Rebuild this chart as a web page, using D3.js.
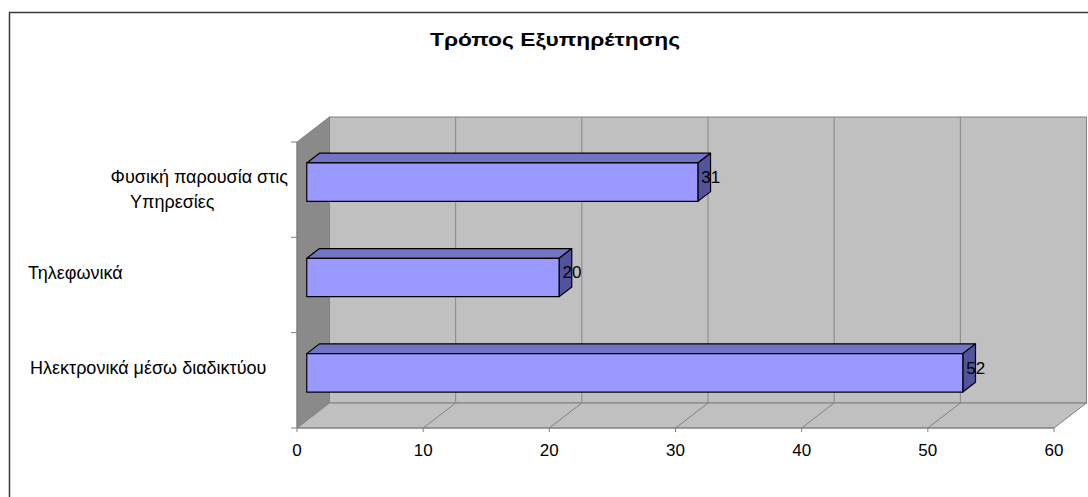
<!DOCTYPE html>
<html>
<head>
<meta charset="utf-8">
<script src="https://cdn.jsdelivr.net/npm/d3@7"></script>
<style>
  html, body { margin: 0; padding: 0; background: #fff; }
  svg { display: block; }
  text { font-family: "Liberation Sans", Arial, sans-serif; fill: #000; }
</style>
</head>
<body>
<svg id="chart" width="1088" height="497"></svg>
<script>
// Chart data
const title = "Τρόπος Εξυπηρέτησης";
const categories = [
  "Φυσική παρουσία στις Υπηρεσίες",
  "Τηλεφωνικά",
  "Ηλεκτρονικά μέσω διαδικτύου"
];
const categoryLines = [
  ["Φυσική παρουσία στις", "Υπηρεσίες"],
  ["Τηλεφωνικά"],
  ["Ηλεκτρονικά μέσω διαδικτύου"]
];
const values = [31, 20, 52];
const xTicks = [0, 10, 20, 30, 40, 50, 60];

// Layout
const plot = { left: 297, right: 1054, top: 142, bottom: 428 };
const depth = { dx: 32.5, dy: -25 };      // 3D depth offset of the back wall
const barDepth = [0.3, 0.69];              // bar occupies this slice of the depth
const barThickness = 0.403;                // share of band height
// anchors for the category text (x, text-anchor) per row and line
const catLabelAnchor = [
  [{ x: 288, a: "end" }, { x: 130, a: "start" }],
  [{ x: 28, a: "start" }],
  [{ x: 30, a: "start" }]
];
const labelFont = 18;

const svg = d3.select("#chart");

const x = d3.scaleLinear().domain([0, 60]).range([plot.left, plot.right]);
const y = d3.scaleBand().domain(categories).range([plot.top, plot.bottom]).padding(0);

const P = (px, py, f) => [px + depth.dx * f, py + depth.dy * f];
const poly = pts => pts.map(p => p.join(",")).join(" ");

// Outer frame
svg.append("rect")
  .attr("x", 9.5).attr("y", 12.5)
  .attr("width", 1100).attr("height", 500)
  .attr("fill", "#fff").attr("stroke", "#3a3a3a").attr("stroke-width", 1.5);

// Title
svg.append("text")
  .attr("x", 430).attr("y", 46)
  .attr("font-size", 18).attr("font-weight", "bold")
  .attr("textLength", 250).attr("lengthAdjust", "spacingAndGlyphs")
  .text(title);

const g = svg.append("g");

// Back wall
const bx0 = x(0) + depth.dx, bx1 = x(60) + depth.dx;
const by0 = plot.top + depth.dy, by1 = plot.bottom + depth.dy;
g.append("rect")
  .attr("x", bx0).attr("y", by0)
  .attr("width", bx1 - bx0).attr("height", by1 - by0)
  .attr("fill", "#c0c0c0").attr("stroke", "#808080").attr("stroke-width", 1);

// Vertical gridlines on the back wall
g.selectAll("line.grid")
  .data(xTicks.slice(1, -1))
  .join("line")
  .attr("class", "grid")
  .attr("x1", d => x(d) + depth.dx).attr("x2", d => x(d) + depth.dx)
  .attr("y1", by0).attr("y2", by1)
  .attr("stroke", "#868686").attr("stroke-width", 1);

// Left side wall
g.append("polygon")
  .attr("points", poly([
    [x(0), plot.top], P(x(0), plot.top, 1), P(x(0), plot.bottom, 1), [x(0), plot.bottom]
  ]))
  .attr("fill", "#8a8a8a").attr("stroke", "#808080").attr("stroke-width", 1);

// Floor
g.append("polygon")
  .attr("points", poly([
    [x(0), plot.bottom], [x(60), plot.bottom], P(x(60), plot.bottom, 1), P(x(0), plot.bottom, 1)
  ]))
  .attr("fill", "#c0c0c0").attr("stroke", "#808080").attr("stroke-width", 1);

// Floor gridlines
g.selectAll("line.floor")
  .data(xTicks.slice(1, -1))
  .join("line")
  .attr("class", "floor")
  .attr("x1", d => x(d)).attr("y1", plot.bottom)
  .attr("x2", d => x(d) + depth.dx).attr("y2", plot.bottom + depth.dy)
  .attr("stroke", "#808080").attr("stroke-width", 1);

// X axis line and ticks
g.append("line")
  .attr("x1", x(0)).attr("x2", x(60))
  .attr("y1", plot.bottom).attr("y2", plot.bottom)
  .attr("stroke", "#808080").attr("stroke-width", 1.2);
g.selectAll("line.xtick")
  .data(xTicks)
  .join("line")
  .attr("class", "xtick")
  .attr("x1", d => x(d)).attr("x2", d => x(d))
  .attr("y1", plot.bottom).attr("y2", plot.bottom + 4)
  .attr("stroke", "#808080");
g.selectAll("text.xlabel")
  .data(xTicks)
  .join("text")
  .attr("class", "xlabel")
  .attr("x", d => x(d)).attr("y", plot.bottom + 28)
  .attr("text-anchor", "middle")
  .attr("font-size", 17)
  .text(d => d);

// Y axis line and ticks at band boundaries
g.append("line")
  .attr("x1", x(0)).attr("x2", x(0))
  .attr("y1", plot.top).attr("y2", plot.bottom)
  .attr("stroke", "#808080");
const boundaries = categories.map(c => y(c)).concat([plot.bottom]);
g.selectAll("line.ytick")
  .data(boundaries)
  .join("line")
  .attr("class", "ytick")
  .attr("x1", x(0) - 6).attr("x2", x(0))
  .attr("y1", d => d).attr("y2", d => d)
  .attr("stroke", "#808080");

// Bars (top face, end face, front face)
const bars = g.selectAll("g.bar")
  .data(categories.map((c, i) => ({ c, v: values[i] })))
  .join("g").attr("class", "bar");

bars.each(function (d) {
  const sel = d3.select(this);
  const bh = y.bandwidth() * barThickness;
  const yc = y(d.c) + y.bandwidth() / 2;
  const yt = yc - bh / 2, yb = yc + bh / 2;
  const x0 = x(0), x1 = x(d.v);
  const [f, b] = barDepth;
  const ftl = P(x0, yt, f), ftr = P(x1, yt, f), fbr = P(x1, yb, f), fbl = P(x0, yb, f);
  const btl = P(x0, yt, b), btr = P(x1, yt, b), bbr = P(x1, yb, b);
  sel.append("polygon").attr("points", poly([ftl, ftr, btr, btl]))
    .attr("fill", "#7474c4").attr("stroke", "#000").attr("stroke-width", 1.2).attr("stroke-linejoin", "round");
  sel.append("polygon").attr("points", poly([ftr, btr, bbr, fbr]))
    .attr("fill", "#53539a").attr("stroke", "#000").attr("stroke-width", 1.2).attr("stroke-linejoin", "round");
  sel.append("polygon").attr("points", poly([ftl, ftr, fbr, fbl]))
    .attr("fill", "#9999ff").attr("stroke", "#000").attr("stroke-width", 1.2).attr("stroke-linejoin", "round");
  // value label
  const lp = P(x1, yc, 0.5);
  sel.append("text")
    .attr("x", lp[0] - 3).attr("y", lp[1])
    .attr("dy", "0.35em")
    .attr("font-size", 17)
    .text(d.v);
});

// Category labels
categories.forEach((c, i) => {
  const yc = y(c) + y.bandwidth() / 2 + depth.dy * 0.5;
  categoryLines[i].forEach((line, j) => {
    const a = catLabelAnchor[i][j];
    svg.append("text")
      .attr("x", a.x).attr("y", yc + j * 25)
      .attr("dy", "0.35em")
      .attr("text-anchor", a.a)
      .attr("font-size", labelFont)
      .text(line);
  });
});
</script>
</body>
</html>
